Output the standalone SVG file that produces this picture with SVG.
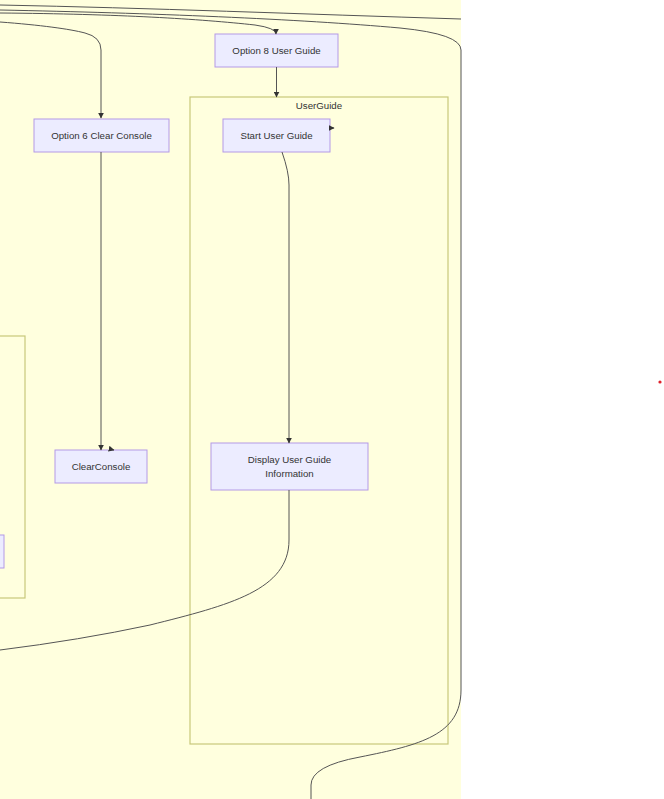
<svg xmlns="http://www.w3.org/2000/svg" width="664" height="799" viewBox="0 0 664 799">
<defs>
<marker id="arr" viewBox="0 0 10 10" refX="9" refY="5" markerWidth="6" markerHeight="6" orient="auto"><path d="M0,0 L10,5 L0,10 z" fill="#333"/></marker>
<style>
.bg{fill:#ffffde}
.cl{fill:#ffffde;stroke:#c8c87a;stroke-width:1.2}
.nd rect{fill:#ececff;stroke:#b49ae6;stroke-width:1}
text{font-family:"Liberation Sans",Arial,sans-serif;font-size:9.7px;fill:#333;text-anchor:middle}
.ed path{fill:none;stroke:#555;stroke-width:1}
</style>
</defs>
<rect class="bg" x="0" y="0" width="461" height="799"/>
<g id="cluster-left"><rect class="cl" x="-10" y="336" width="35" height="262"/></g>
<g id="cluster-userguide"><rect class="cl" x="190" y="97" width="258" height="647"/><text x="319" y="108.5">UserGuide</text></g>
<g id="node-left"><g class="nd"><rect x="-40" y="535" width="44" height="33"/></g></g>
<g id="node-opt8" class="nd"><rect x="215" y="34" width="123" height="33"/><text x="276.5" y="54">Option 8 User Guide</text></g>
<g id="node-opt6" class="nd"><rect x="34" y="119" width="135" height="33"/><text x="101.5" y="139">Option 6 Clear Console</text></g>
<g id="node-start" class="nd"><rect x="223" y="119" width="107" height="33"/><text x="276.5" y="139">Start User Guide</text></g>
<g id="node-clear" class="nd"><rect x="55" y="450" width="92" height="33"/><text x="101" y="470">ClearConsole</text></g>
<g id="node-display" class="nd"><rect x="211" y="443" width="157" height="47"/><text x="289.5" y="463">Display User Guide</text><text x="289.5" y="477">Information</text></g>
<g id="connectors" class="ed">
<path d="M0,5 C150,8 300,14 461,19"/>
<path d="M0,10 C150,13 300,19 400,28 Q461,34 461,50 L461,690 C461,735 420,745 360,757 Q311,766 311,785 L311,799"/>
<path d="M0,13 C120,14 200,19 255,25 Q276,28 276,34" marker-end="url(#arr)"/>
<path d="M0,22 C40,25 70,29 85,33 Q101,37 101,50 L101,118" marker-end="url(#arr)"/>
<path d="M276.5,67 L276.5,97" marker-end="url(#arr)"/>
<path d="M101,152 L101,450" marker-end="url(#arr)"/>
<path d="M282,152 Q289,172 289,185 L289,443" marker-end="url(#arr)"/>
<path d="M289,490 L289,540 C289,590 230,605 150,625 Q80,640 0,650"/>
<path d="M330,128 L334,128" marker-end="url(#arr)"/>
<path d="M110,449 L114,450" marker-end="url(#arr)"/>
</g>
<circle cx="660" cy="382" r="1.6" fill="#e0202a"/>
</svg>
